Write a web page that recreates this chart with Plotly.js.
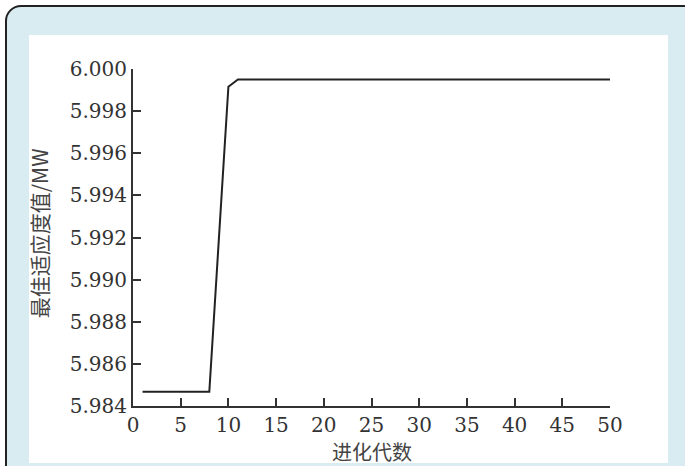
<!DOCTYPE html>
<html>
<head>
<meta charset="utf-8">
<script src="https://cdn.plot.ly/plotly-3.0.1.min.js"></script>
<style>
  html, body { margin: 0; padding: 0; background: #ffffff; width: 685px; height: 466px; overflow: hidden; }
  #card { position: absolute; left: 5px; top: 5px; width: 700px; height: 490px;
          background: #d8ecf1; border: 2px solid #222; border-radius: 16px; box-sizing: border-box; }
  #inner { position: absolute; left: 29px; top: 35px; width: 639px; height: 428px; background: #ffffff; }
  #chart { position: absolute; left: 0; top: 0; width: 685px; height: 466px; }
</style>
</head>
<body>
<div id="card"></div>
<div id="inner"></div>
<div id="chart"></div>
<script>
// Evolution generations (x) and best fitness value in MW (y)
const generations = [1,2,3,4,5,6,7,8,9,10,11,12,13,14,15,16,17,18,19,20,21,22,23,24,25,26,27,28,29,30,31,32,33,34,35,36,37,38,39,40,41,42,43,44,45,46,47,48,49,50];
const bestFitness = [5.98468,5.98468,5.98468,5.98468,5.98468,5.98468,5.98468,5.98468,5.99192,5.99916,
  5.99950,5.99950,5.99950,5.99950,5.99950,5.99950,5.99950,5.99950,5.99950,5.99950,
  5.99950,5.99950,5.99950,5.99950,5.99950,5.99950,5.99950,5.99950,5.99950,5.99950,
  5.99950,5.99950,5.99950,5.99950,5.99950,5.99950,5.99950,5.99950,5.99950,5.99950,
  5.99950,5.99950,5.99950,5.99950,5.99950,5.99950,5.99950,5.99950,5.99950,5.99950];
const xTicks = [0,5,10,15,20,25,30,35,40,45,50];
const yTicks = [5.984,5.986,5.988,5.990,5.992,5.994,5.996,5.998,6.000];
const yTickText = ["5.984","5.986","5.988","5.990","5.992","5.994","5.996","5.998","6.000"];
const xTitle = "进化代数";
const yTitle = "最佳适应度值/MW";

const trace = {
  x: generations, y: bestFitness, type: 'scatter', mode: 'lines',
  line: { color: '#222222', width: 2 }, hoverinfo: 'skip'
};

const axisFont = { family: '"DejaVu Serif", "Liberation Serif", serif', size: 20, color: '#333333' };
const xTitleFont = { family: 'Noto Sans CJK SC', size: 20, color: '#444444' };
const yTitleFont = { family: 'Noto Sans CJK SC', size: 21, color: '#444444' };

const layout = {
  width: 685, height: 466,
  margin: { l: 133, r: 75, t: 69, b: 60 },
  paper_bgcolor: 'rgba(0,0,0,0)', plot_bgcolor: 'rgba(0,0,0,0)',
  showlegend: false,
  xaxis: {
    range: [0, 50], tickmode: 'array', tickvals: xTicks,
    ticks: 'inside', ticklen: 8, tickwidth: 2, tickcolor: '#333333',
    showline: true, linecolor: '#333333', linewidth: 2, mirror: false,
    showgrid: false, zeroline: false, tickfont: axisFont, fixedrange: true
  },
  yaxis: {
    range: [5.984, 6.000], tickmode: 'array', tickvals: yTicks, ticktext: yTickText,
    ticks: 'inside', ticklen: 8, tickwidth: 2, tickcolor: '#333333',
    showline: true, linecolor: '#333333', linewidth: 2, mirror: false,
    showgrid: false, zeroline: false, tickfont: axisFont, fixedrange: true
  },
  annotations: [
    { text: xTitle, xref: 'paper', yref: 'paper', x: 0.501, y: -0.134,
      xanchor: 'center', yanchor: 'middle', showarrow: false, font: xTitleFont },
    { text: yTitle, xref: 'paper', yref: 'paper', x: -0.197, y: 0.513,
      xanchor: 'center', yanchor: 'middle', showarrow: false, textangle: -90, font: yTitleFont }
  ]
};

Plotly.newPlot('chart', [trace], layout, { staticPlot: true, displayModeBar: false });
</script>
</body>
</html>
